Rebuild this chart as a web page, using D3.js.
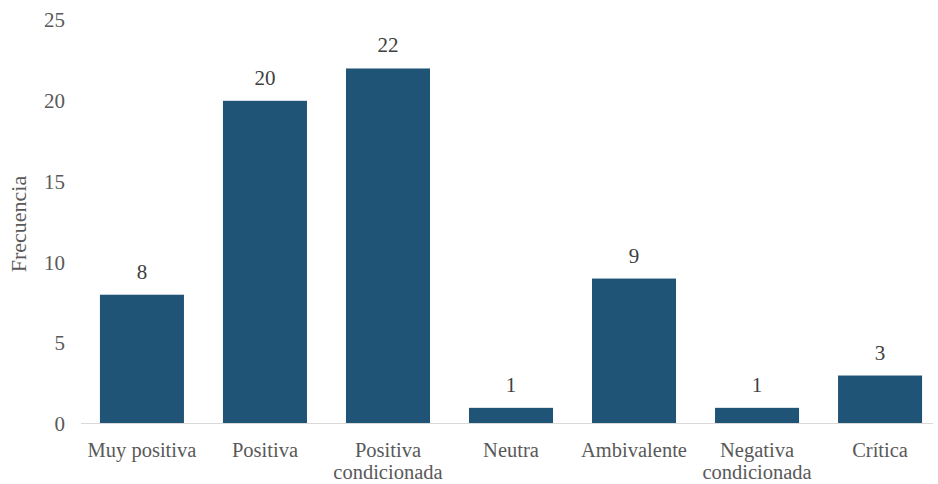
<!DOCTYPE html>
<html>
<head>
<meta charset="utf-8">
<script src="https://cdn.jsdelivr.net/npm/d3@7"></script>
<style>
  html, body { margin: 0; padding: 0; background: #fff; }
  svg { display: block; }
  svg text { font-family: "Liberation Serif", "Times New Roman", serif; }
</style>
</head>
<body>
<div id="chart"></div>
<script>
const categories = [
  ['Muy positiva'],
  ['Positiva'],
  ['Positiva', 'condicionada'],
  ['Neutra'],
  ['Ambivalente'],
  ['Negativa', 'condicionada'],
  ['Crítica'],
];
const counts = [8, 20, 22, 1, 9, 1, 3];
const yTicks = [0, 5, 10, 15, 20, 25];

const width = 938;
const height = 484;
const left = 81;
const right = 933;
const zeroY = 424;
const topY = 20;
const BAR = '#1f5477';
const TEXT = '#595959';
const FONT = '"Liberation Serif", "Times New Roman", serif';

const svg = d3.select('#chart')
  .append('svg')
  .attr('width', width)
  .attr('height', height);

const x = d3.scaleBand()
  .domain(d3.range(categories.length))
  .range([80.5, 941.5])
  .paddingInner(0.317)
  .paddingOuter(0.158);

const y = d3.scaleLinear()
  .domain([0, 25])
  .range([zeroY, topY]);

// y axis labels, no line
const yAxis = svg.append('g')
  .attr('transform', `translate(${left - 16}, 0)`)
  .call(d3.axisLeft(y).tickValues(yTicks).tickSize(0).tickPadding(0));
yAxis.select('.domain').remove();
yAxis.selectAll('text')
  .attr('font-family', FONT)
  .attr('font-size', 21)
  .attr('fill', TEXT);

svg.append('text')
  .attr('transform', `translate(26, ${(zeroY + topY) / 2 + 2}) rotate(-90)`)
  .attr('text-anchor', 'middle')
  .attr('font-family', FONT)
  .attr('font-size', 22)
  .attr('fill', TEXT)
  .text('Frecuencia');

svg.append('g')
  .selectAll('rect')
  .data(counts)
  .join('rect')
    .attr('x', (_, i) => x(i))
    .attr('y', d => y(d))
    .attr('width', x.bandwidth())
    .attr('height', d => y(0) - y(d))
    .attr('fill', BAR);

svg.append('g')
  .selectAll('text')
  .data(counts)
  .join('text')
    .attr('x', (_, i) => x(i) + x.bandwidth() / 2)
    .attr('y', d => y(d) - 16)
    .attr('text-anchor', 'middle')
    .attr('font-family', FONT)
    .attr('font-size', 21)
    .attr('fill', '#404040')
    .text(d => d);

// baseline
svg.append('line')
  .attr('x1', left)
  .attr('x2', right)
  .attr('y1', y(0) - 0.5)
  .attr('y2', y(0) - 0.5)
  .attr('stroke', '#d9d9d9')
  .attr('stroke-width', 1);

// one text element per label line
const lines = categories.flatMap((words, i) =>
  words.map((text, row) => ({ i, row, text })));

svg.append('g')
  .selectAll('text')
  .data(lines)
  .join('text')
    .attr('x', d => x(d.i) + x.bandwidth() / 2)
    .attr('y', d => 457 + d.row * 22)
    .attr('text-anchor', 'middle')
    .attr('font-family', FONT)
    .attr('font-size', 20.5)
    .attr('fill', TEXT)
    .text(d => d.text);
</script>
</body>
</html>
